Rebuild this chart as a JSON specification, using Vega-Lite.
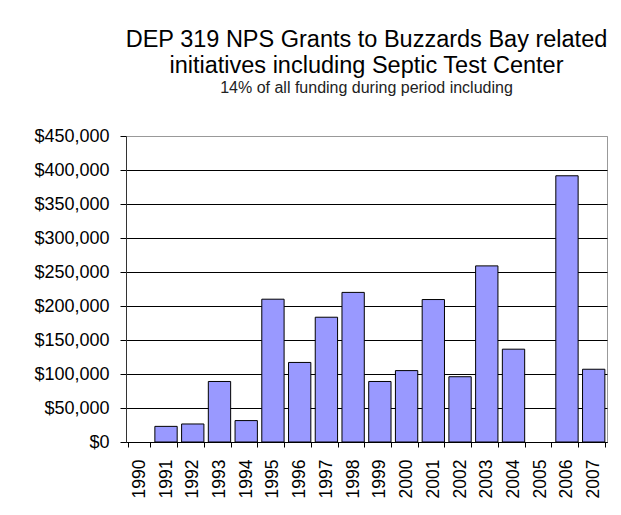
{
  "$schema": "https://vega.github.io/schema/vega-lite/v6.json",
  "width": 481,
  "height": 306,
  "autosize": {"type": "none"},
  "padding": {"left": 126, "top": 136, "right": 14, "bottom": 73},
  "background": "white",
  "title": {
    "text": ["DEP 319 NPS Grants to Buzzards Bay related", "initiatives including Septic Test Center"],
    "subtitle": "14% of all  funding during period including",
    "anchor": "middle",
    "frame": "group",
    "font": "Liberation Sans",
    "fontSize": 23.5,
    "fontWeight": "normal",
    "lineHeight": 26,
    "color": "#000000",
    "subtitleFont": "Liberation Sans",
    "subtitleFontSize": 16,
    "subtitleColor": "#222222",
    "subtitlePadding": 3,
    "offset": 31
  },
  "data": {
    "values": [
      {"year": "1990", "amount": 0},
      {"year": "1991", "amount": 23000},
      {"year": "1992", "amount": 26500},
      {"year": "1993", "amount": 89000},
      {"year": "1994", "amount": 31500},
      {"year": "1995", "amount": 210000},
      {"year": "1996", "amount": 117000},
      {"year": "1997", "amount": 183500},
      {"year": "1998", "amount": 220000},
      {"year": "1999", "amount": 89000},
      {"year": "2000", "amount": 105000},
      {"year": "2001", "amount": 209500},
      {"year": "2002", "amount": 96000},
      {"year": "2003", "amount": 259000},
      {"year": "2004", "amount": 136500},
      {"year": "2005", "amount": 0},
      {"year": "2006", "amount": 391500},
      {"year": "2007", "amount": 107000}
    ]
  },
  "mark": {"type": "bar", "fill": "#9999FF", "stroke": "#000000", "strokeWidth": 1},
  "encoding": {
    "x": {
      "field": "year",
      "type": "ordinal",
      "scale": {"paddingInner": 0.165, "paddingOuter": 0.08},
      "axis": {
        "title": null,
        "labelAngle": -90,
        "labelAlign": "right",
        "labelBaseline": "middle",
        "labelFont": "Liberation Sans",
        "labelFontSize": 17.5,
        "labelColor": "#000000",
        "labelPadding": 12,
        "tickBand": "extent",
        "tickSize": 5,
        "tickColor": "#000000",
        "domainColor": "#000000",
        "grid": false
      }
    },
    "y": {
      "field": "amount",
      "type": "quantitative",
      "scale": {"domain": [0, 450000], "nice": false},
      "axis": {
        "title": null,
        "values": [0, 50000, 100000, 150000, 200000, 250000, 300000, 350000, 400000, 450000],
        "format": "$,.0f",
        "labelFont": "Liberation Sans",
        "labelFontSize": 18,
        "labelColor": "#000000",
        "labelPadding": 11,
        "tickSize": 6,
        "tickColor": "#000000",
        "domainColor": "#333333",
        "grid": true,
        "gridColor": {"condition": {"test": "datum.value == 450000", "value": "#999999"}, "value": "#000000"},
        "gridOpacity": 1,
        "gridWidth": 1
      }
    },
    "strokeOpacity": {
      "condition": {"test": "datum.amount > 0", "value": 1},
      "value": 0
    }
  },
  "config": {
    "view": {"stroke": "#999999", "strokeWidth": 1},
    "axis": {"domainWidth": 1, "tickWidth": 1}
  }
}
